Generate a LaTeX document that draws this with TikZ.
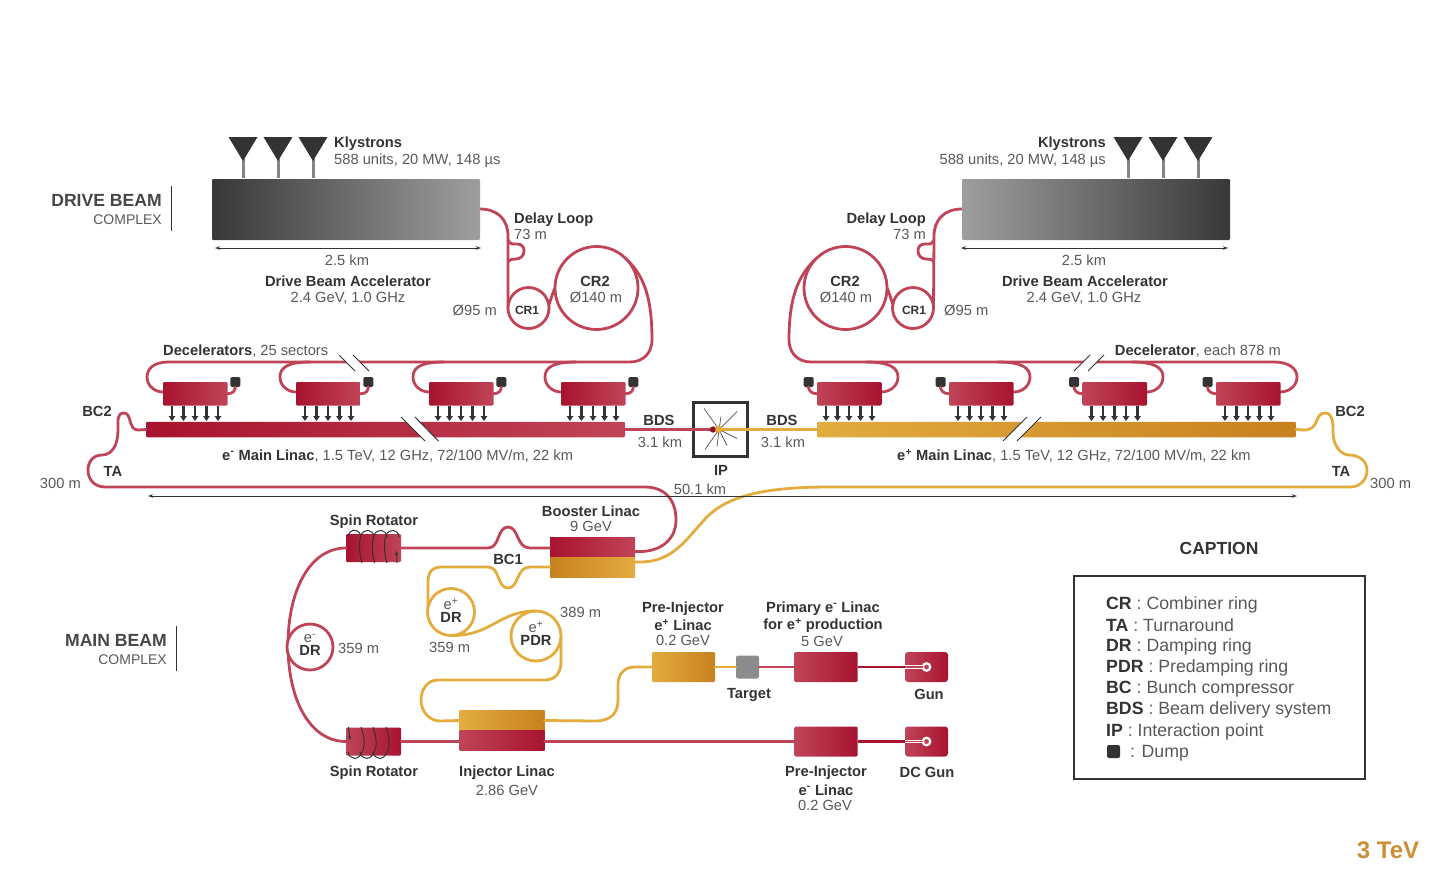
\documentclass[tikz,border=0pt]{standalone}
\usepackage{fontspec}
\setmainfont{Liberation Sans}
\usetikzlibrary{arrows.meta,calc}
\definecolor{rd}{HTML}{C04458}
\definecolor{rdd}{HTML}{A8132F}
\definecolor{gd}{HTML}{E2AC3F}
\definecolor{gdd}{HTML}{C8811F}
\definecolor{ink}{HTML}{333333}
\definecolor{lite}{HTML}{585858}
\tikzset{
  redbeam/.style={draw=rd,line width=2.8pt,line cap=round},
  goldbeam/.style={draw=gd,line width=2.8pt,line cap=round},
  box/.style={inner sep=0pt,outer sep=0pt,rounded corners=1.2pt,draw=none},
  sharpbox/.style={inner sep=0pt,outer sep=0pt,draw=none},
  redLR/.style={box,left color=rdd,right color=rd},
  redRL/.style={box,left color=rd,right color=rdd},
  goldLR/.style={box,left color=gd,right color=gdd},
  decel/.style={minimum width=64.5pt,minimum height=23.5pt},
  dumpbox/.style={box,fill=ink,minimum width=10pt,minimum height=10pt,rounded corners=1.5pt},
  ringnode/.style={circle,inner sep=0pt,outer sep=0pt,draw=#1,line width=2.8pt,fill=white},
  kly/.style={fill=ink,draw=none},
  stem/.style={draw=black!48,line width=3pt},
  pw/.style={draw=ink,line width=2.2pt,-{Triangle[length=5pt,width=6.5pt]}},
  dim/.style={draw=ink,line width=1pt,{Stealth[length=5pt,width=3.5pt]}-{Stealth[length=5pt,width=3.5pt]}},
  cut/.style={draw=ink,line width=1pt},
  whitegap/.style={fill=white,draw=none},
  lb/.style={font=\fontsize{14.7}{16}\selectfont\bfseries,text=ink,inner sep=0pt,align=center,yshift=-.8pt},
  lt/.style={font=\fontsize{14.7}{16}\selectfont,text=lite,inner sep=0pt,align=center,yshift=-.8pt},
  capline/.style={font=\fontsize{17.7}{20}\selectfont,text=lite,inner sep=0pt,anchor=west,yshift=-.6pt},
  coil/.style={draw=ink,line width=1pt},
  gunport/.style={circle,draw=white,fill=rd,line width=2.2pt,minimum size=7.5pt,inner sep=0pt,outer sep=0pt},
  rays/.style={draw=ink!85,line width=.7pt},
}
\newcommand{\capb}[1]{{\bfseries\color{ink}#1}}
\newcommand{\sups}[1]{\textsuperscript{\kern0.02em#1}}
\begin{document}
\begin{tikzpicture}[x=1pt,y=-1pt]
\useasboundingbox (0,0) rectangle (1440,876);

\coordinate (dbaLport) at (480,209);
\coordinate (dbaRport) at (962,209);
\coordinate (ipc) at (719,429.5);

% ---- named ring positions (rings are painted after the lines)
\coordinate (cr1Lc) at (528.5,308);
\coordinate (cr2Lc) at (596.5,288);
\coordinate (cr1Rc) at (913,308);
\coordinate (cr2Rc) at (845.5,288);
\node[circle,minimum size=41pt,inner sep=0pt,outer sep=0pt] (cr1L) at (cr1Lc) {};
\node[circle,minimum size=83pt,inner sep=0pt,outer sep=0pt] (cr2L) at (cr2Lc) {};
\node[circle,minimum size=41pt,inner sep=0pt,outer sep=0pt] (cr1R) at (cr1Rc) {};
\node[circle,minimum size=83pt,inner sep=0pt,outer sep=0pt] (cr2R) at (cr2Rc) {};
\node[circle,minimum size=46pt,inner sep=0pt,outer sep=0pt] (drE) at (310,647) {};
\node[circle,minimum size=47pt,inner sep=0pt,outer sep=0pt] (drP) at (451,612) {};
\node[circle,minimum size=50pt,inner sep=0pt,outer sep=0pt] (pdr) at (536,636) {};

% ---- left delay loop and combiner rings
\draw[redbeam] (dbaLport) .. controls (498,209) and (508,220) .. (508,236) -- (cr1L.west);
\draw[redbeam] (508,240) .. controls (510,245) and (514,244) .. (517,244) .. controls (522,244) and (524,247) .. (524,251) .. controls (524,256) and (520,259) .. (516,259) .. controls (513,259) and (510,259) .. (508,262);
\draw[redbeam] (cr1L.south) .. controls (546,328) and (549,300) .. (cr2L.west);
\draw[redbeam] (cr2L.45) .. controls (645,276) and (652,300) .. (652,340) .. controls (652,352) and (644,362) .. (630,362) -- (168,362) .. controls (155,362) and (147,368) .. (147,377) .. controls (147,386) and (155,392) .. (163,392);
\draw[redbeam] (310,362) .. controls (287,362) and (280,368) .. (280,377) .. controls (280,386) and (288,392) .. (296,392);
\draw[redbeam] (444,362) .. controls (420,362) and (413,368) .. (413,377) .. controls (413,386) and (421,392) .. (429,392);
\draw[redbeam] (576,362) .. controls (552,362) and (545,368) .. (545,377) .. controls (545,386) and (553,392) .. (561,392);

% ---- right delay loop and combiner rings
\draw[redbeam] (dbaRport) .. controls (944,209) and (934,220) .. (934,236) -- (cr1R.east);
\draw[redbeam] (934,240) .. controls (932,245) and (928,244) .. (925,244) .. controls (920,244) and (918,247) .. (918,251) .. controls (918,256) and (922,259) .. (926,259) .. controls (929,259) and (932,259) .. (934,262);
\draw[redbeam] (cr1R.south) .. controls (896,328) and (893,300) .. (cr2R.east);
\draw[redbeam] (cr2R.135) .. controls (797,276) and (789,300) .. (789,340) .. controls (789,352) and (797,362) .. (811,362) -- (1274,362) .. controls (1288,362) and (1297,368) .. (1297,377) .. controls (1297,386) and (1289,392) .. (1280,392);
\draw[redbeam] (1132,362) .. controls (1155,362) and (1163,368) .. (1163,377) .. controls (1163,386) and (1155,392) .. (1147,392);
\draw[redbeam] (998,362) .. controls (1022,362) and (1030,368) .. (1030,377) .. controls (1030,386) and (1022,392) .. (1014,392);
\draw[redbeam] (866,362) .. controls (890,362) and (898,368) .. (898,377) .. controls (898,386) and (890,392) .. (881,392);

% ---- rings over lines
\node[ringnode=rd,minimum size=41pt] (cr1Lr) at (cr1Lc) {};
\node[ringnode=rd,minimum size=83pt] (cr2Lr) at (cr2Lc) {};
\node[ringnode=rd,minimum size=41pt] (cr1Rr) at (cr1Rc) {};
\node[ringnode=rd,minimum size=83pt] (cr2Rr) at (cr2Rc) {};

% ---- drive beam accelerators
\node[box,left color=black!78,right color=black!38,minimum width=268pt,minimum height=61pt] (dbaL) at (346,209.5) {};
\node[box,left color=black!38,right color=black!78,minimum width=268pt,minimum height=61pt] (dbaR) at (1096,209.5) {};

% ---- klystrons
\foreach \n/\x in {kL1/243,kL2/278,kL3/313,kR1/1128,kR2/1163,kR3/1198}{
  \coordinate (\n) at (\x,159);
  \draw[stem] (\n) -- (\x,178);
  \fill[kly] (\x-14.5,137) -- (\x+14.5,137) -- (\x,161) -- cycle;
}

% ---- main linacs
\node[box,left color=rdd,right color=rd,minimum width=479pt,minimum height=15.5pt] (mlL) at (385.5,429.5) {};
\node[box,left color=gd,right color=gdd,minimum width=479pt,minimum height=15.5pt] (mlR) at (1056.5,429.5) {};

% ---- decelerators + dumps + arrows
\foreach \n/\x in {dL1/163,dL2/296,dL3/429,dL4/561}{
  \node[redLR,decel,anchor=north west] (\n) at (\x,382) {};
  \node[dumpbox] (\n d) at (\x+72.3,382) {};
  \draw[redbeam] (\n.east) .. controls ($(\n.east)+(6,0)$) and ($(\n d.south)+(0,3)$) .. (\n d.south);
  \foreach \o in {9,20.5,32,43.5,55}{
    \draw[pw] (\x+\o,405.5) -- (\x+\o,421);
  }
}
\foreach \n/\x in {dR1/817,dR2/949,dR3/1082.5,dR4/1216}{
  \node[redRL,decel,anchor=north west] (\n) at (\x,382) {};
  \node[dumpbox] (\n d) at (\x-8.5,382) {};
  \draw[redbeam] (\n.west) .. controls ($(\n.west)+(-6,0)$) and ($(\n d.south)+(0,3)$) .. (\n d.south);
  \foreach \o in {9,20.5,32,43.5,55}{
    \draw[pw] (\x+\o,405.5) -- (\x+\o,421);
  }
}

% ---- breaks
\fill[whitegap] (401,417) -- (415,417) -- (438.5,441) -- (425,441) -- cycle;
\draw[cut] (401,417) -- (425,441);
\draw[cut] (415,417) -- (438.5,441);
\fill[whitegap] (339,355) -- (353,355) -- (369,371) -- (355,371) -- cycle;
\draw[cut] (339,355) -- (355,371);
\draw[cut] (353,355) -- (369,371);
\fill[whitegap] (1027,417) -- (1041,417) -- (1017,441) -- (1003,441) -- cycle;
\draw[cut] (1027,417) -- (1003,441);
\draw[cut] (1041,417) -- (1017,441);
\fill[whitegap] (1090,355) -- (1104,355) -- (1088,371) -- (1074,371) -- cycle;
\draw[cut] (1090,355) -- (1074,371);
\draw[cut] (1104,355) -- (1088,371);

% ---- IP
\node[draw=ink,line width=3pt,minimum size=54pt,inner sep=0pt] (ip) at (720.5,429.5) {};
\draw[redbeam] (mlL.east) -- (ipc);
\foreach \dx/\dy in {-15/-21,2/-13,18/-18,18/9,8/16,-2/17,-14/20}{
  \draw[rays] (ipc) -- ++(\dx,\dy);
}
\draw[goldbeam] (ipc) -- (mlR.west);
\fill[rdd!85!black] (713,429.5) circle (3.2pt);
\fill[gd] (ipc) circle (3.8pt);

% ---- BC2 / TA / lines to booster
\node[sharpbox,left color=rdd,right color=rd,minimum width=85pt,minimum height=20pt] (boosterR) at (592.5,547) {};
\node[sharpbox,left color=gdd,right color=gd,minimum width=85pt,minimum height=20pt] (boosterG) at (592.5,567) {};

\draw[redbeam] (mlL.west) -- (138,430) .. controls (128,430) and (132,413) .. (124,413) .. controls (117,413) and (118,420) .. (118,430) .. controls (118,445) and (112,455) .. (102,455) .. controls (93,455) and (88,462) .. (88,470) .. controls (88,480) and (95,487) .. (105,487) -- (645,487) .. controls (665,487) and (676,500) .. (676,520) .. controls (676,540) and (660,551.5) .. (640,551.5) -- (boosterR.east |- 0,551.5);
\draw[goldbeam] (mlR.east) -- (1304,430) .. controls (1320,430) and (1314,413) .. (1325,413) .. controls (1333,413) and (1333,424) .. (1333,432) .. controls (1333,447) and (1342,455) .. (1349,455) .. controls (1360,455) and (1367,462) .. (1367,470) .. controls (1367,480) and (1360,487) .. (1350,487) -- (830,487) .. controls (770,487) and (728,494) .. (705,519) .. controls (685,541) and (672,562) .. (640,562) -- (boosterG.east |- 0,562);

% ---- dimension lines
\draw[dim] (215,248) -- (481,248);
\draw[dim] (961,248) -- (1228,248);
\draw[dim] (148,496) -- (1297,496);

% ---- main beam complex
\node[box,left color=rdd,right color=rd,minimum width=55pt,minimum height=28pt] (srT) at (373.5,548) {};
\node[box,left color=rd,right color=rdd,minimum width=55pt,minimum height=28pt] (srB) at (373.5,741.5) {};
\node[sharpbox,left color=gd,right color=gdd,minimum width=85pt,minimum height=20.5pt] (injG) at (502,720.5) {};
\node[sharpbox,left color=rd,right color=rdd,minimum width=85pt,minimum height=20pt] (injR) at (502,740.6) {};
\node[goldLR,minimum width=63pt,minimum height=30pt] (preP) at (683.5,667) {};
\node[box,fill=black!45,rounded corners=2pt,minimum size=23pt] (tgt) at (747.5,667) {};
\node[redRL,minimum width=63pt,minimum height=30pt] (prim) at (826,667) {};
\node[redRL,minimum width=43pt,minimum height=30pt,rounded corners=3pt] (gun) at (926.5,667) {};
\node[redRL,minimum width=63pt,minimum height=30pt] (preE) at (826,741.5) {};
\node[redRL,minimum width=43pt,minimum height=30pt,rounded corners=3pt] (dcgun) at (926.5,741.5) {};

% connectors
\draw[redbeam] (srT.east) -- (488,548) .. controls (500,548) and (497,527) .. (508,527) .. controls (519,527) and (516,548) .. (530,548) -- (boosterR.west |- 0,548);
\draw[redbeam] (srT.west) .. controls (310,548) and (288,590) .. (288,645) .. controls (288,700) and (310,741.5) .. (srB.west);
\draw[redbeam] (srB.east) -- (srB.east -| injR.west);
\draw[redbeam] (srB.east -| injR.east) -- (preE.west);
\draw[goldbeam] (boosterG.west |- 0,567) -- (530,567) .. controls (516,567) and (519,588) .. (508,588) .. controls (497,588) and (500,567) .. (488,567) -- (442,567) .. controls (432,567) and (428,572) .. (428,582) -- (428,612);
\draw[goldbeam] (pdr.east) -- (561,662) .. controls (561,674) and (554,680) .. (545,680) -- (438,680) .. controls (427,680) and (421,690) .. (421,700) .. controls (421,712) and (430,721) .. (440,721) -- (injG.west);
\draw[goldbeam] (injG.east) -- (595,721) .. controls (612,721) and (618,712) .. (618,700) -- (618,685) .. controls (618,673) and (625,667) .. (635,667) -- (preP.west);
\draw[goldbeam] (preP.east) -- (tgt.west);
\draw[redbeam] (tgt.east) -- (prim.west);
\draw[draw=rdd,line width=2.6pt] (prim.east) -- (gun.west);
\draw[draw=rdd,line width=2.6pt] (preE.east) -- (dcgun.west);

% gun inlets
\node[gunport] (gunc) at (926.5,667) {};
\node[gunport] (dcgunc) at (926.5,741.5) {};
\draw[draw=white,line width=3.4pt] (gun.west) -- (gunc.west);
\draw[draw=rd,line width=1.4pt] (gun.west) -- (gunc.west);
\draw[draw=white,line width=3.4pt] (dcgun.west) -- (dcgunc.west);
\draw[draw=rd,line width=1.4pt] (dcgun.west) -- (dcgunc.west);

% main-beam rings over lines
\node[ringnode=gd,minimum size=47pt] (drPr) at (drP) {};
\node[ringnode=gd,minimum size=50pt] (pdrr) at (pdr) {};
\node[ringnode=rd,minimum size=46pt] (drEr) at (drE) {};
\draw[goldbeam] (drP.south) .. controls (492,636) and (498,611) .. (pdr.north);

% spin rotator coils
\draw[coil] (348,537) .. controls (349,528) and (360,528) .. (361,537);
\foreach \x/\b in {367/362,380/374.5,392/387}{
  \draw[coil] (\x+7,537) .. controls (\x+6,528.5) and (\x-3,528.5) .. (\x-6,535) .. controls (\x-9,545) and (\b-2,556) .. (\b,563);
}
\draw[coil,-{Stealth[length=4pt,width=3.5pt]}] (397,563) -- (396.5,551);
\foreach \t in {361,373,386}{
  \draw[coil] (\t,727) .. controls (\t+4,738) and (\t+4,748) .. (\t+1,752) .. controls (\t-2,760.5) and (\t-11,760.5) .. (\t-13,752);
}
\draw[coil,-{Stealth[length=4pt,width=3.5pt]}] (348.5,727) -- (350,740);

% ---- texts
\node[lb,anchor=west] (t1) at (334,142.5) {Klystrons};
\node[lt,anchor=west] (t2) at (334,160) {588 units, 20 MW, 148 µs};
\node[lb,anchor=east] (t3) at (1106,142.5) {Klystrons};
\node[lt,anchor=east] (t4) at (1106,160) {588 units, 20 MW, 148 µs};
\node[font=\fontsize{17.6}{19}\selectfont\bfseries,text=ink!90,inner sep=0pt,anchor=east] (t5) at (162,200.5) {DRIVE BEAM};
\node[lt,font=\fontsize{14}{16}\selectfont,anchor=east] (t6) at (162,219) {COMPLEX};
\draw[draw=ink,line width=1pt] (171,186) -- (171,231);
\node[font=\fontsize{17.6}{19}\selectfont\bfseries,text=ink!90,inner sep=0pt,anchor=east] (t7) at (167,640.5) {MAIN BEAM};
\node[lt,font=\fontsize{14}{16}\selectfont,anchor=east] (t8) at (167,659) {COMPLEX};
\draw[draw=ink,line width=1pt] (176,626) -- (176,671);

\node[lt] (t9) at (347,259.5) {2.5 km};
\node[lb] (t10) at (348,280) {Drive Beam Accelerator};
\node[lt] (t11) at (348,298) {2.4 GeV, 1.0 GHz};
\node[lt] (t12) at (1084,259.5) {2.5 km};
\node[lb] (t13) at (1085,280) {Drive Beam Accelerator};
\node[lt] (t14) at (1084,298) {2.4 GeV, 1.0 GHz};

\node[lb,anchor=west] (t15) at (514,218.5) {Delay Loop};
\node[lt,anchor=west] (t16) at (514,234) {73 m};
\node[lb,anchor=east] (t17) at (926,218.5) {Delay Loop};
\node[lt,anchor=east] (t18) at (926,234) {73 m};
\node[lt,anchor=east] (t19) at (497,310) {Ø95 m};
\node[lt,anchor=west] (t20) at (944,310) {Ø95 m};
\node[lb,font=\fontsize{12}{14}\selectfont\bfseries] (t21) at (527,309.5) {CR1};
\node[lb,font=\fontsize{12}{14}\selectfont\bfseries] (t22) at (914,309.5) {CR1};
\node[lb] (t23) at (595,281) {CR2};
\node[lt] (t24) at (596,297) {Ø140 m};
\node[lb] (t25) at (845,281) {CR2};
\node[lt] (t26) at (846,297) {Ø140 m};

\node[lt,anchor=west] (t27) at (163,350) {\textbf{\color{ink}Decelerators}, 25 sectors};
\node[lt,anchor=east] (t28) at (1281,350) {\textbf{\color{ink}Decelerator}, each 878 m};
\node[lb] (t29) at (97,410.5) {BC2};
\node[lb] (t30) at (1350,410.5) {BC2};
\node[lb] (t31) at (113,471) {TA};
\node[lb] (t32) at (1341,471) {TA};
\node[lt,anchor=east] (t33) at (81,483) {300 m};
\node[lt,anchor=west] (t34) at (1370,483) {300 m};
\node[lb] (t35) at (659,420) {BDS};
\node[lt] (t36) at (660,441) {3.1 km};
\node[lb] (t37) at (782,420) {BDS};
\node[lt] (t38) at (783,441) {3.1 km};
\node[lb] (t39) at (721,470) {IP};
\node[lt] (t40) at (700,488) {50.1 km};
\node[lt,anchor=west] (t41) at (222,455) {\textbf{\color{ink}e\sups{-} Main Linac}, 1.5 TeV, 12 GHz, 72/100 MV/m, 22 km};
\node[lt,anchor=west] (t42) at (897,455) {\textbf{\color{ink}e\sups{+} Main Linac}, 1.5 TeV, 12 GHz, 72/100 MV/m, 22 km};

\node[lb] (t43) at (374,521) {Spin Rotator};
\node[lb] (t44) at (374,772) {Spin Rotator};
\node[lb] (t45) at (591,510.5) {Booster Linac};
\node[lt] (t46) at (591,526) {9 GeV};
\node[lb] (t47) at (508,559) {BC1};
\node[lb,align=center] (t48) at (310,644.5) {\fontsize{14.7}{14}\selectfont\mdseries\color{lite}e\sups{-}\\[-3pt]DR};
\node[lb,align=center] (t49) at (451,610) {\fontsize{14.7}{14}\selectfont\mdseries\color{lite}e\sups{+}\\[-3pt]DR};
\node[lb,align=center] (t50) at (536,633) {\fontsize{14.7}{14}\selectfont\mdseries\color{lite}e\sups{+}\\[-3pt]PDR};
\node[lt,anchor=west] (t51) at (338,648) {359 m};
\node[lt,anchor=west] (t52) at (429,647) {359 m};
\node[lt,anchor=west] (t53) at (560,612) {389 m};
\node[lb] (t54) at (507,772) {Injector Linac};
\node[lt] (t55) at (507,790) {2.86 GeV};
\node[lb] (t56) at (683,607.5) {Pre-Injector};
\node[lb] (t57) at (683,624.5) {e\sups{+} Linac};
\node[lt] (t58) at (683,640) {0.2 GeV};
\node[lb] (t59) at (823,607.5) {Primary e\sups{-} Linac};
\node[lb] (t60) at (823,624.5) {for e\sups{+} production};
\node[lt] (t61) at (822,641) {5 GeV};
\node[lb] (t62) at (749,694) {Target};
\node[lb] (t63) at (929,694) {Gun};
\node[lb] (t64) at (826,772) {Pre-Injector};
\node[lb] (t65) at (826,789) {e\sups{-} Linac};
\node[lt] (t66) at (825,805) {0.2 GeV};
\node[lb] (t67) at (927,772) {DC Gun};

% ---- caption
\node[font=\fontsize{17.5}{19}\selectfont\bfseries,text=ink,inner sep=0pt] (capt) at (1219,548) {CAPTION};
\node[draw=ink,line width=2.6pt,inner sep=0pt,minimum width=291pt,minimum height=203pt] (capbox) at (1219.5,677.5) {};
\node[capline] (c1) at (1106,604) {\capb{CR} : Combiner ring};
\node[capline] (c2) at (1106,624.5) {\capb{TA} : Turnaround};
\node[capline] (c3) at (1106,646) {\capb{DR} : Damping ring};
\node[capline] (c4) at (1106,667.5) {\capb{PDR} : Predamping ring};
\node[capline] (c5) at (1106,688.5) {\capb{BC} : Bunch compressor};
\node[capline] (c6) at (1106,709.5) {\capb{BDS} : Beam delivery system};
\node[capline] (c7) at (1106,731) {\capb{IP} : Interaction point};
\node[dumpbox,minimum size=13pt,rounded corners=2pt] (c8a) at (1113.5,751.5) {};
\node[capline] (c8) at (1130,752.5) {: Dump};

\node[font=\fontsize{24}{26}\selectfont\bfseries,text=gdd!90!white,inner sep=0pt] (tev) at (1388,850.5) {3 TeV};
\end{tikzpicture}
\end{document}
